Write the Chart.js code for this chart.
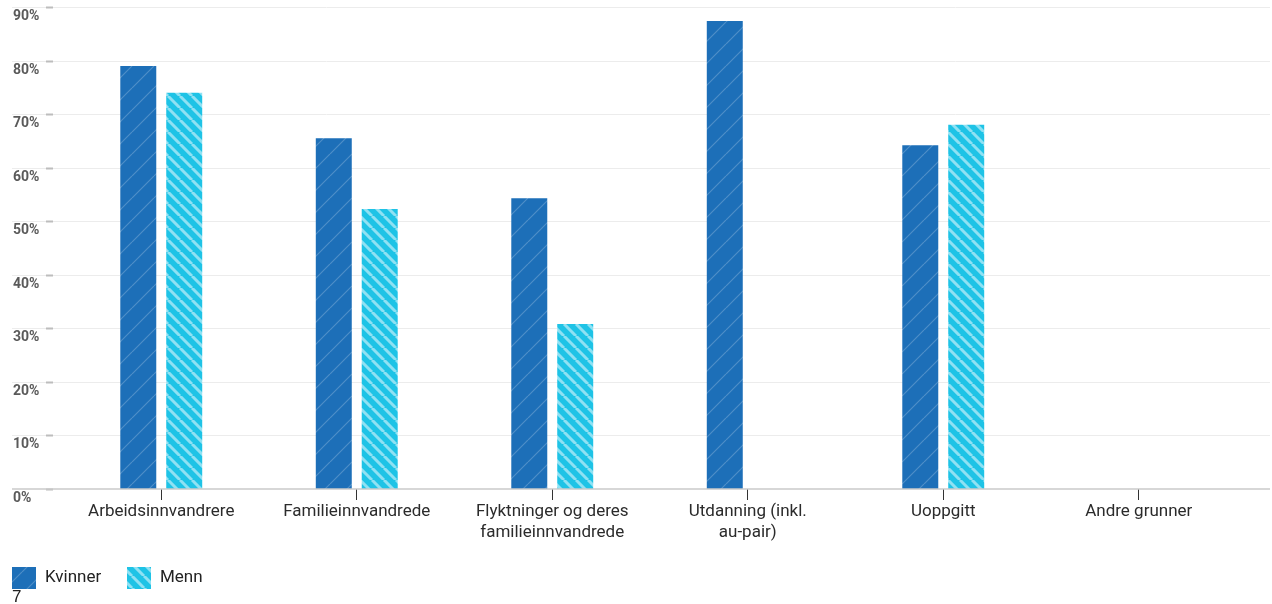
<!DOCTYPE html>
<html lang="no">
<head>
<meta charset="utf-8">
<title>Kvinner og menn etter innvandringsgrunn</title>
<script src="https://cdn.jsdelivr.net/npm/chart.js@4/dist/chart.umd.min.js"></script>
<style>
    html, body { margin: 0; padding: 0; background: #fff; }
    #wrap { position: relative; width: 1272px; height: 604px; overflow: hidden; }
    #note { position: absolute; left: 12px; top: 588px; font: 17px/17px "Liberation Sans", sans-serif; color: #222; }
</style>
</head>
<body>
<div id="wrap">
    <canvas id="chart"></canvas>
    <div id="note">7</div>
</div>
<script>
/* ============================================================
   Data
   ============================================================ */
const categories = [
    'Arbeidsinnvandrere',
    'Familieinnvandrede',
    ['Flyktninger og deres', 'familieinnvandrede'],
    ['Utdanning (inkl.', 'au-pair)'],
    'Uoppgitt',
    'Andre grunner'
];
const seriesNames = ['Kvinner', 'Menn'];
const kvinner = [79, 65.5, 54.3, 87.4, 64.2, null];
const menn = [74, 52.3, 30.8, null, 68, null];
const yTicks = [0, 10, 20, 30, 40, 50, 60, 70, 80, 90];

(function () {
    'use strict';

    const FONT = 'Roboto, "Noto Sans", sans-serif';

    // Striped fills used by both the bars and the legend
    function makePattern(base, stripe, size, width, dir) {
        const c = document.createElement('canvas');
        c.width = size;
        c.height = size;
        const g = c.getContext('2d');
        g.fillStyle = base;
        g.fillRect(0, 0, size, size);
        g.strokeStyle = stripe;
        g.lineWidth = width;
        g.beginPath();
        if (dir === '/') {
            for (let k = -1; k <= 1; k++) {
                g.moveTo(k * size, size);
                g.lineTo(k * size + size, 0);
            }
        } else {
            for (let k = -1; k <= 1; k++) {
                g.moveTo(k * size, 0);
                g.lineTo(k * size + size, size);
            }
        }
        g.stroke();
        return g.createPattern(c, 'repeat');
    }

    const fills = [
        makePattern('#1d6fb8', 'rgba(255,255,255,0.22)', 22, 1.2, '/'),
        makePattern('#1ec3e6', 'rgba(255,255,255,0.5)', 12, 3, '\\')
    ];

    // Gridlines, y labels, axis line and legend drawn around the plot
    const frame = {
        id: 'frame',
        beforeDatasetsDraw(chart) {
            const ctx = chart.ctx;
            const y = chart.scales.y;
            ctx.save();
            yTicks.forEach(v => {
                const py = Math.round(y.getPixelForValue(v)) + 0.5;
                if (v > 0) {
                    ctx.strokeStyle = '#ececec';
                    ctx.lineWidth = 1;
                    ctx.beginPath();
                    ctx.moveTo(12, py);
                    ctx.lineTo(1270, py);
                    ctx.stroke();
                }
                ctx.strokeStyle = '#bdbdbd';
                ctx.lineWidth = 2;
                ctx.beginPath();
                ctx.moveTo(46, py);
                ctx.lineTo(53, py);
                ctx.stroke();

                ctx.fillStyle = '#5a5a5a';
                ctx.font = 'bold 14px ' + FONT;
                ctx.textAlign = 'left';
                ctx.textBaseline = 'middle';
                ctx.fillText(v + '%', 13, py + 9);
            });
            ctx.restore();
        },
        afterDraw(chart) {
            const ctx = chart.ctx;
            const py = chart.scales.y.getPixelForValue(0);
            ctx.save();
            ctx.strokeStyle = '#cacaca';
            ctx.lineWidth = 1.5;
            ctx.beginPath();
            ctx.moveTo(12, py);
            ctx.lineTo(1270, py);
            ctx.stroke();

            // Legend
            const items = [{ x: 12 }, { x: 127 }];
            ctx.font = '17px ' + FONT;
            ctx.textBaseline = 'middle';
            ctx.textAlign = 'left';
            items.forEach((it, i) => {
                ctx.fillStyle = fills[i];
                ctx.fillRect(it.x, 567, 24, 22);
                ctx.fillStyle = '#222';
                ctx.fillText(seriesNames[i], it.x + 33, 578);
            });
            ctx.restore();
        }
    };

    new Chart(document.getElementById('chart'), {
        type: 'bar',
        data: {
            labels: categories,
            datasets: [
                {
                    label: seriesNames[0],
                    data: kvinner,
                    backgroundColor: fills[0],
                    categoryPercentage: 0.47,
                    barPercentage: 0.783
                },
                {
                    label: seriesNames[1],
                    data: menn,
                    backgroundColor: fills[1],
                    categoryPercentage: 0.47,
                    barPercentage: 0.783
                }
            ]
        },
        plugins: [frame],
        options: {
            responsive: true,
            maintainAspectRatio: false,
            animation: false,
            layout: {
                padding: { left: 63.5, right: 35.5, top: 7, bottom: 0 }
            },
            plugins: {
                legend: { display: false },
                tooltip: { enabled: false }
            },
            scales: {
                y: {
                    display: false,
                    min: 0,
                    max: 90
                },
                x: {
                    afterFit(scale) { scale.height = 115; },
                    border: { display: false },
                    grid: {
                        offset: false,
                        drawOnChartArea: false,
                        drawTicks: true,
                        tickLength: 11,
                        color: '#333'
                    },
                    ticks: {
                        padding: 2,
                        color: '#2b2b2b',
                        maxRotation: 0,
                        autoSkip: false,
                        font: { family: FONT, size: 17, lineHeight: 1.2 }
                    }
                }
            }
        }
    });
})();
</script>
</body>
</html>
